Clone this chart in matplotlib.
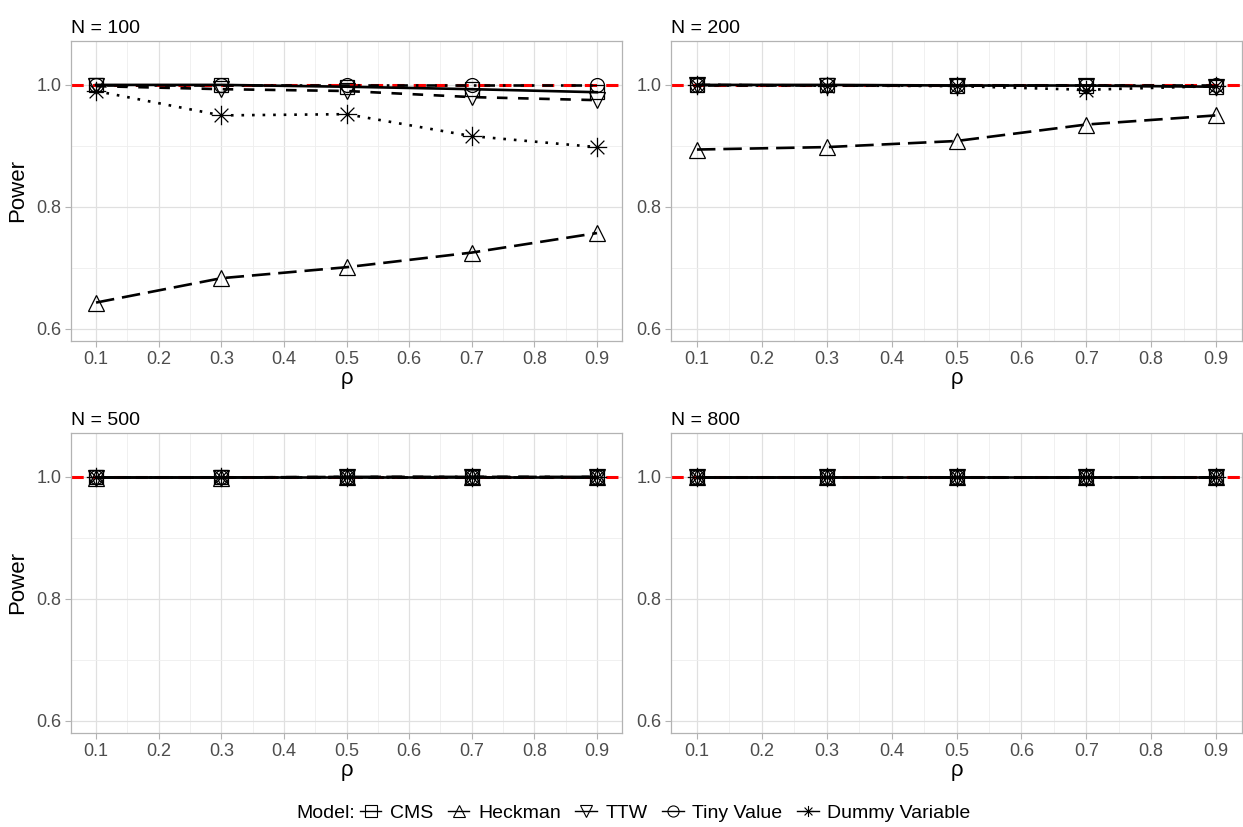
import matplotlib
matplotlib.use("Agg")
import matplotlib.pyplot as plt
from matplotlib.path import Path
from matplotlib.lines import Line2D

plt.rcParams['font.family'] = ['Liberation Sans', 'DejaVu Sans']

# data
rho = [0.1, 0.3, 0.5, 0.7, 0.9]
panels = ['N = 100', 'N = 200', 'N = 500', 'N = 800']
models = ['CMS', 'Heckman', 'TTW', 'Tiny Value', 'Dummy Variable']

cms = [[1.000, 1.000, 0.997, 0.993, 0.988],
       [1.000, 1.000, 0.999, 0.999, 0.997],
       [1.000, 1.000, 1.000, 1.000, 1.000],
       [1.000, 1.000, 1.000, 1.000, 1.000]]
heckman = [[0.643, 0.683, 0.701, 0.725, 0.757],
           [0.894, 0.898, 0.908, 0.935, 0.950],
           [0.999, 0.999, 1.000, 1.000, 1.000],
           [1.000, 1.000, 1.000, 1.000, 1.000]]
ttw = [[0.998, 0.993, 0.990, 0.980, 0.975],
       [1.000, 0.999, 0.999, 0.999, 0.997],
       [0.999, 0.999, 1.000, 1.000, 1.000],
       [1.000, 1.000, 1.000, 1.000, 1.000]]
tiny = [[1.000, 1.000, 1.000, 1.000, 1.000],
        [1.000, 1.000, 1.000, 1.000, 1.000],
        [1.000, 1.000, 1.000, 1.000, 1.000],
        [1.000, 1.000, 1.000, 1.000, 1.000]]
dummy = [[0.990, 0.950, 0.952, 0.916, 0.898],
         [1.000, 0.999, 0.998, 0.992, 0.998],
         [1.000, 1.000, 1.000, 1.000, 1.000],
         [1.000, 1.000, 1.000, 1.000, 1.000]]
series = [cms, heckman, ttw, tiny, dummy]

# asterisk marker (ggplot shape 8)
d = 0.7071
star = Path([(-1, 0), (1, 0), (0, -1), (0, 1), (-d, -d), (d, d), (-d, d), (d, -d)],
            [Path.MOVETO, Path.LINETO] * 4)

markers = ['s', '^', 'v', 'o', star]
msizes = [10, 11, 11, 10, 14]
styles = ['-', (0, (7, 3)), (0, (4, 4)), (0, (1, 3, 4, 3)), (0, (1, 3))]

W, H = 1243, 827
fig = plt.figure(figsize=(W / 100, H / 100), dpi=100)

boxes = [(71, 41, 622, 341), (671, 41, 1242, 341),
         (71, 433, 622, 733), (671, 433, 1242, 733)]

grey = '#4d4d4d'
for k, (l, t, r, b) in enumerate(boxes):
    ax = fig.add_axes([l / W, 1 - b / H, (r - l) / W, (b - t) / H])
    ax.set_xlim(0.06, 0.94)
    ax.set_ylim(0.58, 1.072)
    ax.set_xticks([0.1, 0.2, 0.3, 0.4, 0.5, 0.6, 0.7, 0.8, 0.9])
    ax.set_xticks([0.15, 0.25, 0.35, 0.45, 0.55, 0.65, 0.75, 0.85], minor=True)
    ax.set_yticks([0.6, 0.8, 1.0])
    ax.set_yticks([0.7, 0.9], minor=True)
    ax.grid(which='major', color='#e0e0e0', lw=0.9)
    ax.grid(which='minor', color='#eeeeee', lw=0.6)
    ax.set_axisbelow(True)
    ax.tick_params(which='major', length=4, color='#b3b3b3', labelsize=13,
                   labelcolor=grey, pad=3)
    ax.tick_params(which='minor', length=0)
    for s in ax.spines.values():
        s.set_color('#b3b3b3')
        s.set_linewidth(0.9)
    ax.axhline(1.0, color='red', lw=2.2, ls=(0, (4, 3)), zorder=1.5)
    for ser, m, ms, ls in zip(series, markers, msizes, styles):
        ax.plot(rho, ser[k], color='black', lw=1.9, ls=ls, marker=m,
                markersize=ms, markerfacecolor='none', markeredgecolor='black',
                markeredgewidth=0.9, zorder=3)
    ax.set_title(panels[k], loc='left', fontsize=14, pad=6)
    ax.set_xlabel('ρ', fontsize=16, labelpad=0)
    if k % 2 == 0:
        ax.set_ylabel('Power', fontsize=16, labelpad=6)

# legend
handles = []
for m, ls in zip(markers, styles):
    handles.append(Line2D([], [], color='black', lw=1.0, ls='-', marker=m,
                          markersize=8, markerfacecolor='none',
                          markeredgecolor='black', markeredgewidth=0.8))
fig.text(355 / W, 1 - 813 / H, 'Model:', fontsize=14, va='center', ha='right')
fig.legend(handles, models, loc='center left', bbox_to_anchor=(360 / W, 1 - 813 / H),
           ncol=5, frameon=False, fontsize=14, handlelength=1.1,
           handletextpad=0.45, columnspacing=0.75, borderaxespad=0, borderpad=0)

fig.savefig('out.png', dpi=100)
